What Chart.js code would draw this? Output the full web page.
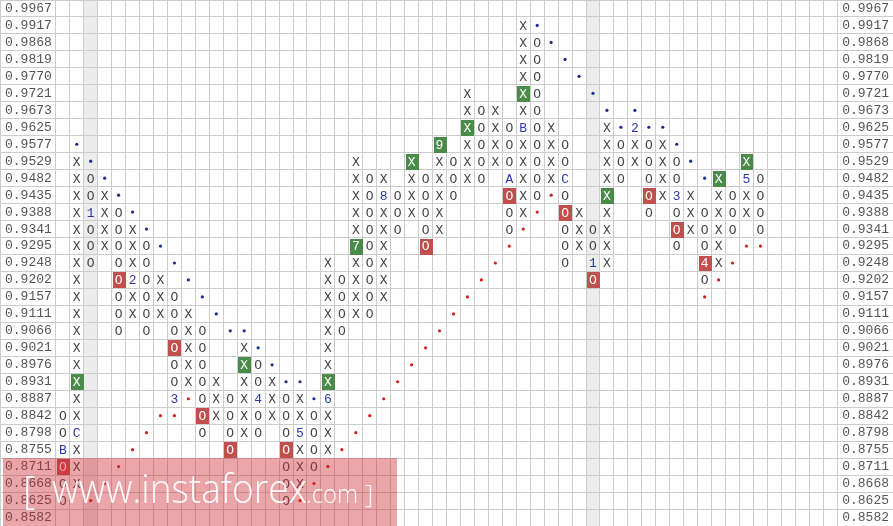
<!DOCTYPE html>
<html><head><meta charset="utf-8">
<script src="https://cdn.jsdelivr.net/npm/chart.js@4.4.1/dist/chart.umd.min.js"></script>
<style>html,body{margin:0;padding:0;background:#fff;}#wrap{width:893px;height:526px;position:relative;}</style>
</head><body><div id="wrap"><canvas id="c"></canvas></div>
<script>
// Price boxes (tick labels), top to bottom
const boxLabels = ['0.9967','0.9917','0.9868','0.9819','0.9770','0.9721','0.9673','0.9625','0.9577','0.9529','0.9482','0.9435','0.9388','0.9341','0.9295','0.9248','0.9202','0.9157','0.9111','0.9066','0.9021','0.8976','0.8931','0.8887','0.8842','0.8798','0.8755','0.8711','0.8668','0.8625','0.8582'];
// Point & figure columns
const colTypes = ['O','X','O','X','O','X','O','X','O','X','O','X','O','X','O','X','O','X','O','X','O','X','O','X','O','X','O','X','O','X','O','X','O','X','O','X','O','X','O','X','O','X','O','X','O','X','O','X','O','X','O'];
const colHigh = [0.8842,0.9529,0.9482,0.9435,0.9388,0.9341,0.9295,0.9202,0.9157,0.9111,0.9066,0.8931,0.8887,0.9021,0.8976,0.8931,0.8887,0.8887,0.8842,0.9248,0.9202,0.9529,0.9482,0.9482,0.9435,0.9529,0.9482,0.9577,0.9529,0.9721,0.9673,0.9673,0.9625,0.9917,0.9868,0.9625,0.9577,0.9388,0.9341,0.9625,0.9577,0.9625,0.9577,0.9577,0.9529,0.9435,0.9388,0.9482,0.9435,0.9529,0.9482];
const colLow  = [0.8625,0.8668,0.9248,0.9295,0.9066,0.9111,0.9066,0.9111,0.8887,0.8931,0.8798,0.8842,0.8755,0.8798,0.8798,0.8842,0.8625,0.8668,0.8711,0.8755,0.9066,0.9111,0.9111,0.9157,0.9341,0.9388,0.9295,0.9341,0.9435,0.9482,0.9482,0.9529,0.9341,0.9388,0.9435,0.9482,0.9248,0.9295,0.9202,0.9248,0.9482,0.9529,0.9388,0.9435,0.9295,0.9341,0.9202,0.9248,0.9341,0.9388,0.9341];
// Month markers replacing a box
const markerCol   = [2,5,8,14,17,19,21,23,27,32,33,36,38,41,44,46,49,0,1];
const markerPrice = [0.9388,0.9202,0.8887,0.8887,0.8798,0.8887,0.9295,0.9435,0.9577,0.9482,0.9625,0.9482,0.9248,0.9625,0.9435,0.9248,0.9482,0.8755,0.8798];
const markerText  = ['1','2','3','4','5','6','7','8','9','A','B','C','1','2','3','4','5','B','C'];
// Buy / sell signal boxes
const buyCol   = [1,13,19,21,25,27,29,33,39,47,49];
const buyPrice = [0.8931,0.8976,0.8931,0.9295,0.9529,0.9577,0.9625,0.9721,0.9435,0.9482,0.9529];
const sellCol   = [0,4,8,10,12,16,26,32,36,38,42,44,46];
const sellPrice = [0.8711,0.9202,0.9021,0.8842,0.8755,0.8755,0.9295,0.9435,0.9388,0.9202,0.9435,0.9341,0.9248];
// Trend lines
const resistCol   = [1,2,3,4,5,6,7,8,9,10,11,12,13,14,15,16,17,18,34,35,36,37,38,39,40,41,42,43,44,45,46];
const resistPrice = [0.9577,0.9529,0.9482,0.9435,0.9388,0.9341,0.9295,0.9248,0.9202,0.9157,0.9111,0.9066,0.9066,0.9021,0.8976,0.8931,0.8931,0.8887,0.9917,0.9868,0.9819,0.9770,0.9721,0.9673,0.9625,0.9673,0.9625,0.9625,0.9577,0.9529,0.9482];
const supportCol   = [2,3,4,5,6,7,8,9,17,18,19,20,21,22,23,24,25,26,27,28,29,30,31,32,33,34,35,46,47,48,49,50];
const supportPrice = [0.8625,0.8668,0.8711,0.8755,0.8798,0.8842,0.8842,0.8887,0.8625,0.8668,0.8711,0.8755,0.8798,0.8842,0.8887,0.8931,0.8976,0.9021,0.9066,0.9111,0.9157,0.9202,0.9248,0.9295,0.9341,0.9388,0.9435,0.9157,0.9202,0.9248,0.9295,0.9295];
const shadedCols = [2, 38];

const lab = p => p.toFixed(4);
const key = (c, l) => c + '|' + l;
const buySet = new Set(buyCol.map((c,i)=>key(c, lab(buyPrice[i]))));
const sellSet = new Set(sellCol.map((c,i)=>key(c, lab(sellPrice[i]))));
const markerMap = new Map(markerCol.map((c,i)=>[key(c, lab(markerPrice[i])), markerText[i]]));

const cellData = [], cellGlyph = [], cellColor = [];
colTypes.forEach((t, k) => {
  const i0 = boxLabels.indexOf(lab(colHigh[k])), i1 = boxLabels.indexOf(lab(colLow[k]));
  for (let i = i0; i <= i1; i++) {
    const l = boxLabels[i], kk = key(k, l);
    const boxed = buySet.has(kk) || sellSet.has(kk);
    const m = markerMap.get(kk);
    cellData.push({x: k + 0.5, y: l});
    cellGlyph.push(m || t);
    cellColor.push(boxed ? '#ffffff' : (m ? '#2b38a8' : '#444444'));
  }
});

const pfPlugin = {
  id: 'pf',
  beforeDraw(chart) {
    const {ctx, chartArea, scales: {x}} = chart;
    ctx.save(); ctx.fillStyle = '#ececec';
    shadedCols.forEach(k => {
      const l = x.getPixelForValue(k), r = x.getPixelForValue(k + 1);
      ctx.fillRect(l, chartArea.top, r - l, chartArea.bottom - chartArea.top);
    });
    ctx.restore();
  },
  afterDatasetsDraw(chart) {
    const {ctx, scales: {x, y}} = chart;
    const cw = x.getPixelForValue(1) - x.getPixelForValue(0);
    const ch = Math.abs(y.getPixelForValue(1) - y.getPixelForValue(0));
    ctx.save();
    chart.data.datasets.forEach((ds, di) => {
      if (!ds.boxColor) return;
      ctx.fillStyle = ds.boxColor;
      chart.getDatasetMeta(di).data.forEach(el => {
        const l = Math.round(el.x - cw / 2) + 1, r = Math.round(el.x + cw / 2);
        const t = Math.round(el.y - ch / 2) + 1, b = Math.round(el.y + ch / 2);
        ctx.fillRect(l, t, r - l, b - t);
      });
    });
    chart.data.datasets.forEach((ds, di) => {
      if (!ds.glyphs) return;
      ctx.font = '13px "Liberation Mono", "DejaVu Sans Mono", monospace';
      ctx.textAlign = 'center'; ctx.textBaseline = 'middle';
      chart.getDatasetMeta(di).data.forEach((el, i) => {
        ctx.fillStyle = ds.glyphColors[i];
        ctx.fillText(ds.glyphs[i], el.x, el.y + 1);
      });
    });
    ctx.restore();
  },
  afterDraw(chart) {
    const {ctx} = chart;
    ctx.save();
    ctx.fillStyle = 'rgba(205,40,50,0.42)';
    ctx.fillRect(3, 458, 394, 68);
    ctx.fillStyle = 'rgba(255,255,255,0.95)';
    ctx.textBaseline = 'alphabetic'; ctx.textAlign = 'left';
    ctx.font = '300 38px "Open Sans", "Noto Sans", sans-serif';
    ctx.fillText('[', 23, 504);
    ctx.font = '300 41px "Open Sans", "Noto Sans", sans-serif';
    ctx.fillText('www.instaforex', 52, 503, 255);
    ctx.font = '300 26px "Open Sans", "Noto Sans", sans-serif';
    ctx.fillText('.com', 306, 503, 52);
    ctx.fillText(']', 365, 503);
    ctx.restore();
  }
};

const noPad = s => { s.paddingLeft = 0; s.paddingRight = 0; s.paddingTop = 0; s.paddingBottom = 0; };
const ticksFont = {family: '"Liberation Mono", "DejaVu Sans Mono", monospace', size: 13};
new Chart(document.getElementById('c'), {
  type: 'scatter',
  data: {
    datasets: [
      {label: 'buy', data: buyCol.map((c,i)=>({x: c + 0.5, y: lab(buyPrice[i])})), boxColor: '#4b8b49', pointRadius: 0, pointBorderWidth: 0},
      {label: 'sell', data: sellCol.map((c,i)=>({x: c + 0.5, y: lab(sellPrice[i])})), boxColor: '#c0504d', pointRadius: 0, pointBorderWidth: 0},
      {label: 'boxes', data: cellData, glyphs: cellGlyph, glyphColors: cellColor, pointRadius: 0, pointBorderWidth: 0},
      {label: 'resistance', data: resistCol.map((c,i)=>({x: c + 0.5, y: lab(resistPrice[i])})), pointRadius: 1.6, pointBackgroundColor: '#1c2a8c', pointBorderWidth: 0},
      {label: 'support', data: supportCol.map((c,i)=>({x: c + 0.5, y: lab(supportPrice[i])})), pointRadius: 1.6, pointBackgroundColor: '#d42020', pointBorderWidth: 0}
    ]
  },
  options: {
    responsive: true, maintainAspectRatio: false, animation: false, events: [],
    layout: {padding: 0, autoPadding: false},
    plugins: {legend: {display: false}, tooltip: {enabled: false}},
    scales: {
      x: {
        type: 'linear', min: -4, max: 60,
        ticks: {display: false, stepSize: 1, padding: 0},
        afterBuildTicks: s => { const t = []; for (let v = -4; v <= 60; v++) t.push({value: v}); s.ticks = t; },
        grid: {drawTicks: false, color: c => { const v = c.tick.value; return (v === -4 || v === 60 || (v >= 0 && v <= 56)) ? '#cccccc' : 'rgba(0,0,0,0)'; }},
        border: {display: false},
        afterFit: s => { s.height = 0; noPad(s); }
      },
      y: {
        type: 'category', labels: boxLabels, offset: true, position: 'left',
        ticks: {mirror: true, padding: 5, autoSkip: false, font: ticksFont, color: '#555'},
        grid: {offset: true, drawTicks: false, color: '#cccccc'},
        border: {display: false},
        afterFit: s => { s.width = 0; noPad(s); }
      },
      y2: {
        type: 'category', labels: boxLabels, offset: true, position: 'right',
        ticks: {mirror: true, padding: -4, autoSkip: false, font: ticksFont, color: '#555'},
        grid: {display: false, drawTicks: false},
        border: {display: false},
        afterFit: s => { s.width = 0; noPad(s); }
      }
    }
  },
  plugins: [pfPlugin]
});
</script>
</body></html>
